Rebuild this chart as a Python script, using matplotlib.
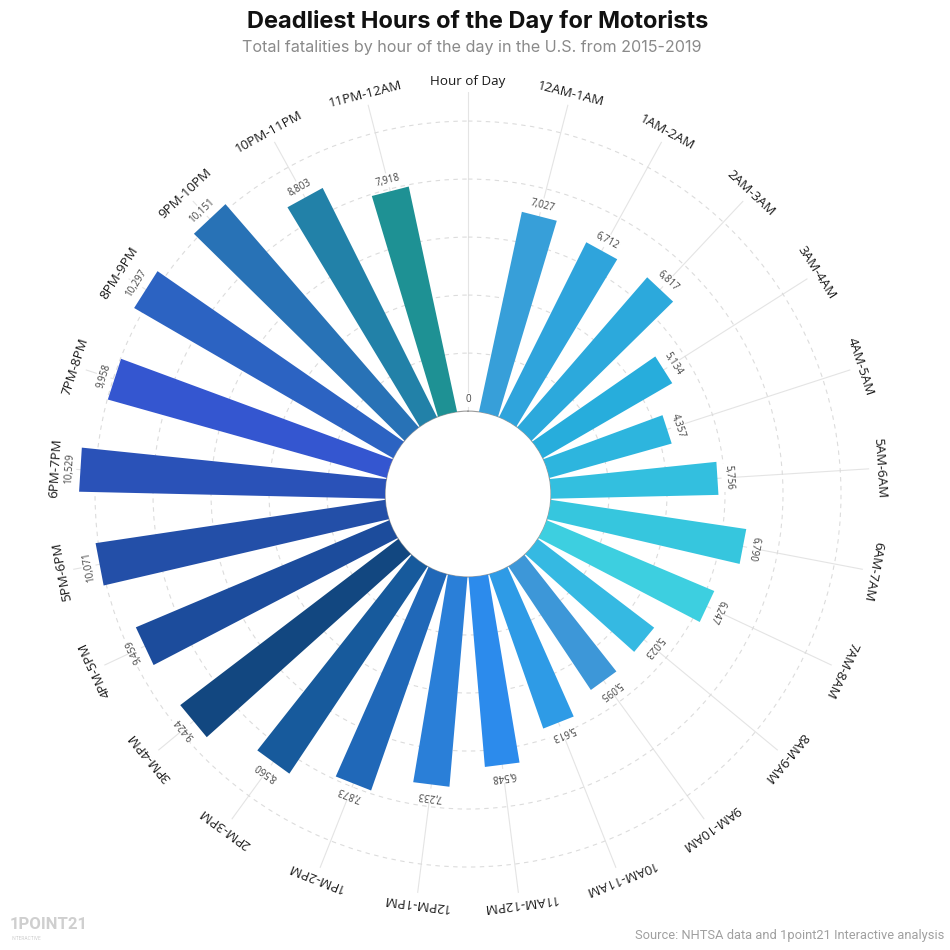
import numpy as np
import matplotlib
matplotlib.use("Agg")
import matplotlib.pyplot as plt

hours = ["Hour of Day", "12AM-1AM", "1AM-2AM", "2AM-3AM", "3AM-4AM", "4AM-5AM", "5AM-6AM",
         "6AM-7AM", "7AM-8AM", "8AM-9AM", "9AM-10AM", "10AM-11AM", "11AM-12PM",
         "12PM-1PM", "1PM-2PM", "2PM-3PM", "3PM-4PM", "4PM-5PM", "5PM-6PM",
         "6PM-7PM", "7PM-8PM", "8PM-9PM", "9PM-10PM", "10PM-11PM", "11PM-12AM"]
deaths = [0, 7027, 6712, 6817, 5134, 4357, 5756, 6790, 6247, 5023, 5095, 5613, 6548,
          7233, 7873, 8560, 9424, 9459, 10071, 10529, 9958, 10297, 10151, 8803, 7918]
colors = ["#ffffff", "#379fd9", "#2fa4dc", "#2ca9dc", "#27addc", "#2db5de", "#33bfdf",
          "#36c6de", "#3dcfe0", "#35b9e2", "#3d97d8", "#2e9be6", "#2c8bec",
          "#2a7fd8", "#2068b8", "#175a9c", "#124780", "#1c4c9c", "#234fa8",
          "#2a52b8", "#3456d0", "#2c63c2", "#2872b6", "#2281a8", "#1e9194"]
rings = [2000, 4000, 6000, 8000, 10000]

hole = 2860      # empty centre, in data units
rmax = 11000

fig = plt.figure(figsize=(9.5, 9.5), dpi=100)
ax = fig.add_axes([0.0695, 0.0568, 0.8463, 0.8463], projection="polar")
ax.set_theta_zero_location("N")
ax.set_theta_direction(-1)
ax.set_rorigin(-hole)
ax.set_ylim(0, rmax)

theta = np.deg2rad(np.arange(len(hours)) * 360 / len(hours))


def bar_outline(tc, v, n=40):
    # bars widen slower than a wedge: half width grows linearly with distance
    s = np.linspace(hole * 0.85, hole + v, n)
    hw = 226 + 0.04 * s
    rad = np.hypot(s, hw)
    ang = np.arctan2(hw, s)
    th = np.concatenate([tc - ang, (tc + ang)[::-1]])
    rr = np.concatenate([rad, rad[::-1]]) - hole
    return th, rr


for tc, v, c in zip(theta, deaths, colors):
    if v <= 0:
        continue
    th, rr = bar_outline(tc, v)
    ax.fill(th, rr, color=c, lw=0, zorder=3)

ax.set_axisbelow(True)
ax.set_xticks(theta)
ax.set_xticklabels([])
ax.set_yticks(rings)
ax.set_yticklabels([])
ax.xaxis.grid(True, color="#e4e4e4", lw=0.8)
ax.yaxis.grid(True, color="#dcdcdc", lw=0.8, ls=(0, (4, 4)))
ax.spines["polar"].set_visible(False)
ax.spines["inner"].set_color("#9a9a9a")
ax.spines["inner"].set_linewidth(0.8)
ax.tick_params(length=0, pad=0)

for tc, v, lab in zip(theta, deaths, hours):
    rot = -np.rad2deg(tc)
    ax.text(tc, rmax + 370, lab, rotation=rot, rotation_mode="anchor",
            ha="center", va="center", fontsize=9.6, family="Open Sans",
            color="#1a1a1a")
    ax.text(tc, v + 390, f"{v:,}", rotation=rot, rotation_mode="anchor",
            ha="center", va="center", fontsize=7, family="Open Sans",
            color="#444444", zorder=4,
            bbox=dict(facecolor="white", edgecolor="none", pad=1.2))

fig.text(0.503, 0.977, "Deadliest Hours of the Day for Motorists", ha="center",
         va="center", fontsize=17, fontweight="bold", family="Inter", color="#111111")
fig.text(0.497, 0.950, "Total fatalities by hour of the day in the U.S. from 2015-2019",
         ha="center", va="center", fontsize=11.6, family="Inter", color="#8a8a8a")
fig.text(0.994, 0.015, "Source: NHTSA data and 1point21 Interactive analysis",
         ha="right", va="center", fontsize=9.3, family="Roboto", color="#a0a0a0")
fig.text(0.010, 0.027, "1POINT21", ha="left", va="center", fontsize=12,
         fontweight="bold", family="Roboto", color="#cfcfcf")
fig.text(0.012, 0.012, "INTERACTIVE", ha="left", va="center", fontsize=3.5,
         family="Roboto", color="#cfcfcf")

fig.savefig("out.png", dpi=100, facecolor="white")
